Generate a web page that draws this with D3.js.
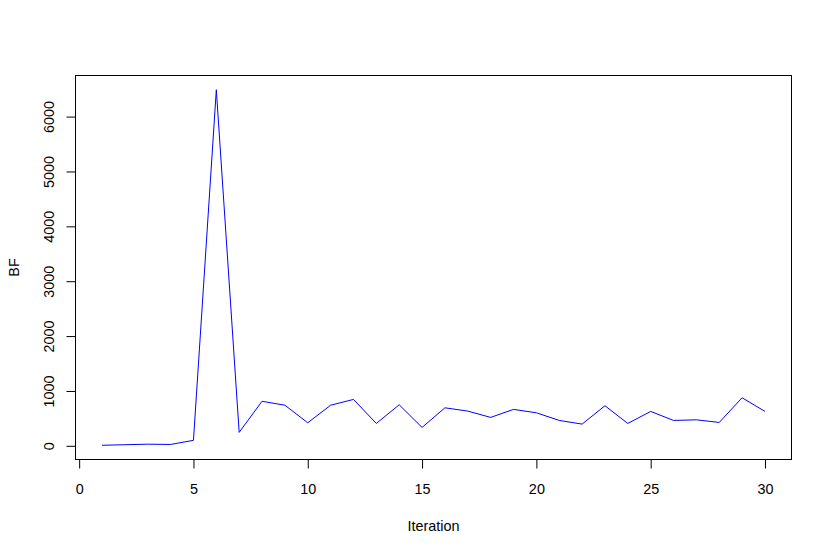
<!DOCTYPE html>
<html>
<head>
    <title>BF by Iteration</title>
    <script src="https://d3js.org/d3.v7.min.js"></script>
    <style>
        body { margin: 0; background: #fff; }
        text { font-family: "Liberation Sans", Arial, Helvetica, sans-serif; font-size: 14.4px; fill: #000; }
    </style>
</head>
<body>
    <svg width="830" height="554"></svg>
    <script>
        // Data
        const iterations = d3.range(1, 31);
        const bfValues = [10, 20, 30, 25, 100, 6490, 245, 812, 740, 420,
                          740, 846, 408, 748, 335, 693, 633, 518, 664, 602,
                          463, 396, 730, 408, 627, 463, 474, 426, 876, 627];
        const xTicks = [0, 5, 10, 15, 20, 25, 30];
        const yTicks = [0, 1000, 2000, 3000, 4000, 5000, 6000];

        // Plot region (R base graphics style)
        const margin = {top: 75.5, right: 38.5, bottom: 94.5, left: 75.5},
              width = 830 - margin.left - margin.right,
              height = 554 - margin.top - margin.bottom;

        const svg = d3.select("svg")
          .append("g")
            .attr("transform", `translate(${margin.left},${margin.top})`);

        // R pads the data range by 4% on each side
        function padded(ext) {
            const d = (ext[1] - ext[0]) * 0.04;
            return [ext[0] - d, ext[1] + d];
        }

        const x = d3.scaleLinear()
            .domain(padded(d3.extent(iterations)))
            .range([0, width]);
        const y = d3.scaleLinear()
            .domain(padded(d3.extent(bfValues)))
            .range([height, 0]);

        // X axis
        const xAxis = svg.append("g")
            .attr("transform", `translate(0,${height})`)
            .call(d3.axisBottom(x).tickValues(xTicks).tickSize(9).tickFormat(d3.format("d")));
        xAxis.select(".domain").attr("d", `M${x(xTicks[0])},0H${x(xTicks[xTicks.length - 1])}`);
        xAxis.selectAll("text").attr("y", 34).attr("dy", 0);

        // Y axis, labels rotated like R's default las=0
        const yAxis = svg.append("g")
            .call(d3.axisLeft(y).tickValues(yTicks).tickSize(9).tickFormat(d3.format("d")));
        yAxis.select(".domain").attr("d", `M0,${y(yTicks[0])}V${y(yTicks[yTicks.length - 1])}`);
        yAxis.selectAll("text")
            .attr("transform", "rotate(-90)")
            .attr("x", 0)
            .attr("y", -22)
            .attr("dy", 0)
            .attr("text-anchor", "middle");

        svg.selectAll(".domain, .tick line").attr("stroke", "#000");
        svg.selectAll(".tick text").style("font-size", "14.4px").style("font-family", "'Liberation Sans', Arial, sans-serif");

        // Box around the plot
        svg.append("rect")
            .attr("width", width)
            .attr("height", height)
            .attr("fill", "none")
            .attr("stroke", "#000");

        // Line
        const line = d3.line()
            .x((d, i) => x(iterations[i]))
            .y(d => y(d));
        svg.append("path")
            .datum(bfValues)
            .attr("fill", "none")
            .attr("stroke", "#0000ff")
            .attr("stroke-width", 1)
            .attr("d", line);

        // Axis titles
        svg.append("text")
            .attr("x", width / 2)
            .attr("y", height + 71)
            .attr("text-anchor", "middle")
            .text("Iteration");
        svg.append("text")
            .attr("transform", `translate(${18.5 - margin.left},${height / 2}) rotate(-90)`)
            .attr("text-anchor", "middle")
            .text("BF");
    </script>
</body>
</html>
